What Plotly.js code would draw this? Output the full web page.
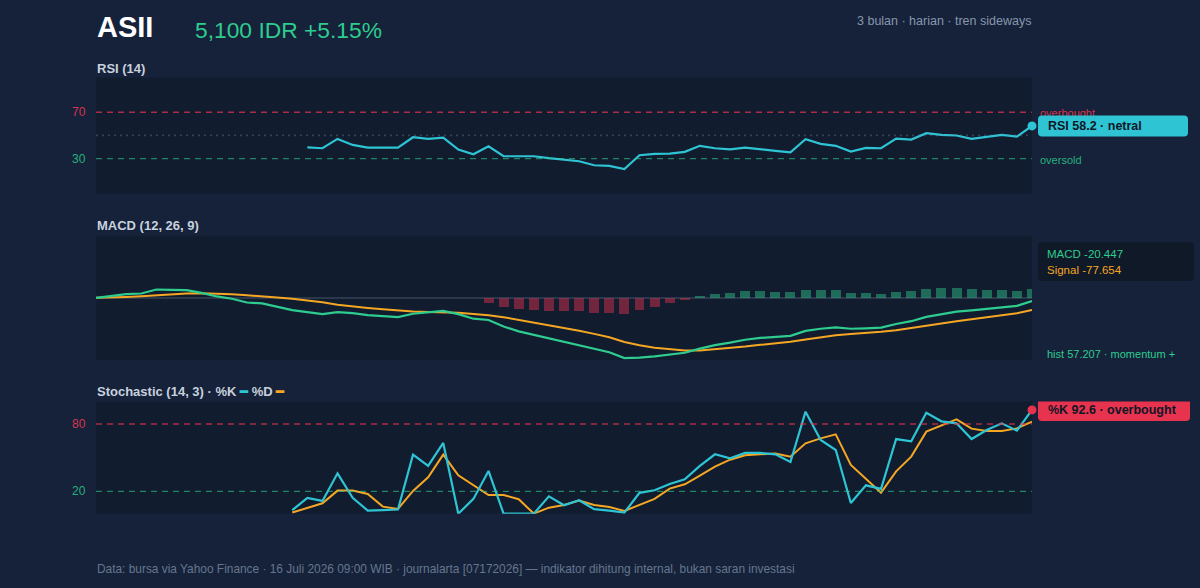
<!DOCTYPE html>
<html>
<head>
<meta charset="utf-8">
<script src="https://cdn.plot.ly/plotly-3.0.1.min.js"></script>
<style>
  html, body { margin: 0; padding: 0; background: #15223a; }
  #chart { width: 1200px; height: 588px; }
</style>
</head>
<body>
<div id="chart"></div>
<script>
// ASII daily indicators, last 3 months (63 sessions)
const ticker = "ASII";
const priceText = "5,100 IDR +5.15%";
const subtitle = "3 bulan · harian · tren sideways";
const footer = "Data: bursa via Yahoo Finance · 16 Juli 2026 09:00 WIB · journalarta [07172026] — indikator dihitung internal, bukan saran investasi";

// RSI (14) — first 14 sessions have no value
const rsi = [null, null, null, null, null, null, null, null, null, null, null, null, null, null,
  39.7, 38.9, 47.0, 41.8, 39.5, 39.5, 39.5, 48.4, 47.0, 48.1,
  37.8, 33.7, 40.6, 32.0, 32.0, 32.0, 30.3, 28.9, 27.7, 24.2,
  23.7, 20.9, 32.9, 34.0, 34.3, 35.8, 41.0, 38.9, 38.0, 39.5,
  37.8, 36.6, 35.4, 46.7, 42.7, 41.0, 36.0, 39.2, 38.9, 47.3,
  46.4, 51.9, 50.5, 49.9, 47.0, 48.7, 50.5, 49.0, 58.2];

// MACD (12, 26, 9)
const macd = [0, 11, 24, 28, 54, 52, 50, 32, 9, -6,
  -30, -36, -58, -79, -92, -105, -92, -99, -112, -118,
  -124, -103, -92, -84, -105, -135, -143, -185, -217, -239,
  -262, -286, -305, -328, -352, -390, -387, -379, -368, -355,
  -328, -306, -290, -271, -259, -251, -246, -214, -200, -191,
  -200, -197, -193, -169, -151, -123, -104, -89, -81, -70,
  -60, -52, -20.447];
const signal = [0, 2, 6, 11, 17, 24, 28, 30, 28, 24,
  17, 11, 2, -6, -17, -28, -45, -56, -65, -73,
  -82, -88, -92, -95, -97, -105, -112, -125, -142, -159,
  -176, -196, -213, -233, -255, -286, -307, -322, -333, -340,
  -340, -333, -326, -315, -304, -294, -284, -269, -255, -242,
  -233, -227, -219, -209, -196, -181, -166, -151, -138, -125,
  -111, -99, -77.654];
const hist = [null, null, null, null, null, null, null, null, null, null,
  null, null, null, null, null, null, null, null, null, null,
  null, null, null, null, null, null, -32, -60, -75, -77,
  -84, -86, -86, -95, -97, -104, -80, -56, -34, -15,
  11, 26, 34, 43, 43, 41, 37, 54, 54, 49,
  32, 30, 26, 39, 45, 58, 62, 62, 56, 54,
  49, 47, 57.207];

// Stochastic (14, 3)
const stochK = [null, null, null, null, null, null, null, null, null, null, null, null, null,
  3.1, 14.1, 11.4, 36.0, 14.1, 2.8, 3.1, 3.7, 52.7, 42.6,
  63.1, 0, 13.2, 38.1, 0, 0, 0, 15.5, 7.5, 12.0,
  4.0, 2.8, 1.0, 18.6, 20.9, 26.5, 30.7, 42.6, 53.0, 49.4,
  54.2, 54.2, 53.0, 46.1, 91.0, 65.8, 56.8, 9.6, 25.3, 22.1,
  66.6, 64.6, 90.1, 82.4, 80.6, 66.6, 74.7, 80.6, 74.1, 92.6];
const stochD = [null, null, null, null, null, null, null, null, null, null, null, null, null,
  1.0, 5.4, 9.3, 20.6, 20.6, 17.6, 6.3, 4.3, 20.3, 32.5,
  52.7, 34.3, 25.1, 16.7, 16.7, 12.9, 0.1, 5.4, 7.8, 11.7,
  7.8, 6.0, 2.5, 7.5, 13.2, 22.4, 26.2, 34.0, 42.0, 48.2,
  52.1, 53.0, 53.6, 50.9, 62.8, 67.2, 70.8, 43.5, 30.7, 18.8,
  37.8, 50.9, 73.2, 78.5, 84.2, 75.9, 73.8, 73.8, 76.1, 82.1];

const rsiLevels = { overbought: 70, mid: 50, oversold: 30 };
const stochLevels = { overbought: 80, oversold: 20 };

// ---- styling ----
const C = {
  paper: "#15223a",
  plot: "#111c2f",
  cyan: "#2ec4d4",
  green: "#2ecc8f",
  orange: "#f5a623",
  red: "#e8334f",
  redDim: "rgba(232,51,79,0.72)",
  greenDim: "rgba(46,204,143,0.6)",
  title: "#c8d1de",
  muted: "#8896ad",
  footer: "#66768f",
  dark: "#0e1726"
};
const FONT = "Liberation Sans, Arial, Helvetica, sans-serif";
const W = 1200, H = 588;
const px = x => x / W;
const py = y => 1 - y / H;
const X0 = 96, X1 = 1032;

const idx = macd.map((_, i) => i);
const last = idx.length - 1;

const traces = [
  { x: idx, y: rsi, xaxis: "x", yaxis: "y", mode: "lines", line: { color: C.cyan, width: 2.2 }, hoverinfo: "skip" },
  { x: [last], y: [rsi[last]], xaxis: "x", yaxis: "y", mode: "markers", marker: { color: C.cyan, size: 9 }, cliponaxis: false, hoverinfo: "skip" },

  { x: idx, y: hist, xaxis: "x2", yaxis: "y2", type: "bar", width: 0.66,
    marker: { color: hist.map(v => v >= 0 ? "rgba(46,204,143,0.45)" : "rgba(232,51,79,0.45)"), line: { width: 0 } },
    hoverinfo: "skip" },
  { x: idx, y: signal, xaxis: "x2", yaxis: "y2", mode: "lines", line: { color: C.orange, width: 2 }, hoverinfo: "skip" },
  { x: idx, y: macd, xaxis: "x2", yaxis: "y2", mode: "lines", line: { color: C.green, width: 2.2 }, hoverinfo: "skip" },

  { x: idx, y: stochD, xaxis: "x3", yaxis: "y3", mode: "lines", line: { color: C.orange, width: 2 }, hoverinfo: "skip" },
  { x: idx, y: stochK, xaxis: "x3", yaxis: "y3", mode: "lines", line: { color: C.cyan, width: 2.2 }, hoverinfo: "skip" },
  { x: [last], y: [stochK[last]], xaxis: "x3", yaxis: "y3", mode: "markers", marker: { color: C.red, size: 9 }, cliponaxis: false, hoverinfo: "skip" }
];

const hiddenX = (anchor) => ({
  domain: [px(X0), px(X1)], range: [0, last], anchor: anchor,
  showgrid: false, zeroline: false, showticklabels: false, ticks: "", showline: false, fixedrange: true
});
const hiddenY = (domain, range, anchor, extra) => Object.assign({
  domain: domain, range: range, anchor: anchor,
  showgrid: false, zeroline: false, showticklabels: false, ticks: "", showline: false, fixedrange: true
}, extra || {});

function hline(yref, y, color, dash, width) {
  return { type: "line", xref: "paper", yref: yref, x0: px(X0), x1: px(X1), y0: y, y1: y,
    line: { color: color, width: width || 1.3, dash: dash }, layer: "above" };
}
function roundRect(w, h, r) {
  const t = h / 2;
  return `M ${r},${-t} L ${w - r},${-t} Q ${w},${-t} ${w},${-t + r} L ${w},${t - r} Q ${w},${t} ${w - r},${t} ` +
         `L ${r},${t} Q 0,${t} 0,${t - r} L 0,${-t + r} Q 0,${-t} ${r},${-t} Z`;
}
function badge(yref, yAnchor, w, h, fill) {
  return { type: "path", xref: "paper", yref: yref, xsizemode: "pixel", ysizemode: "pixel",
    xanchor: px(1038), yanchor: yAnchor, path: roundRect(w, h, 4),
    fillcolor: fill, line: { width: 0 }, layer: "above" };
}
// level caption beside the RSI panel, drawn as a shape label so a later badge can sit over it
function sideLabel(yref, y, text, color) {
  return { type: "rect", xref: "paper", yref: yref,
    x0: px(1037), x1: px(1127), y0: y - 5, y1: y + 5,
    line: { width: 0 }, fillcolor: "rgba(0,0,0,0)", layer: "above",
    label: { text: text, textposition: "middle left", padding: 0,
      font: { family: FONT, size: 11, color: color } } };
}

const shapes = [
  hline("y", rsiLevels.overbought, C.redDim, "6px,5px"),
  hline("y", rsiLevels.mid, "rgba(120,135,160,0.35)", "2px,4px", 1.6),
  hline("y", rsiLevels.oversold, C.greenDim, "6px,5px"),
  hline("y3", stochLevels.overbought, C.redDim, "6px,5px"),
  hline("y3", stochLevels.oversold, C.greenDim, "6px,5px"),
  sideLabel("y", rsiLevels.overbought, "overbought", "#d8344f"),
  sideLabel("y", rsiLevels.oversold, "oversold", "#28b07e"),
  badge("y", rsi[last], 150, 21, C.cyan),
  { type: "path", xref: "paper", yref: "paper", xsizemode: "pixel", ysizemode: "pixel",
    xanchor: px(1038), yanchor: py(261.5), path: roundRect(156, 39, 4),
    fillcolor: "#0f1928", line: { width: 0 }, layer: "above" },
  badge("y3", stochK[last], 152, 22, C.red)
];

function txt(x, y, text, size, color, opts) {
  return Object.assign({ xref: "paper", yref: "paper", x: px(x), y: py(y), text: text, showarrow: false,
    xanchor: "left", yanchor: "middle", font: { family: FONT, size: size, color: color } }, opts || {});
}
function tick(yref, v, color) {
  return { xref: "paper", yref: yref, x: px(87.5), y: v, text: String(v), showarrow: false,
    xanchor: "right", yanchor: "middle", font: { family: FONT, size: 12, color: color } };
}

const fmt3 = v => (v < 0 ? "-" : "") + Math.abs(v).toFixed(3);

const annotations = [
  txt(95, 27, "<b>" + ticker + "</b>", 29, "#ffffff"),
  txt(193, 30, priceText, 22.8, C.green),
  txt(1033, 21, subtitle, 12.5, C.muted, { xanchor: "right" }),
  txt(95, 68, "<b>RSI (14)</b>", 13, C.title),
  txt(95, 225.5, "<b>MACD (12, 26, 9)</b>", 13, C.title),
  txt(95, 391, "<b>Stochastic (14, 3) · %K <span style='color:" + C.cyan + "'>━</span> %D <span style='color:" + C.orange + "'>━</span></b>", 13, C.title),
  txt(95, 569, footer, 11.9, C.footer),

  tick("y", rsiLevels.overbought, "#d8344f"),
  tick("y", rsiLevels.oversold, "#28b07e"),
  tick("y3", stochLevels.overbought, "#d8344f"),
  tick("y3", stochLevels.oversold, "#28b07e"),

  { xref: "paper", yref: "y", x: px(1046), y: rsi[last], showarrow: false, xanchor: "left", yanchor: "middle",
    text: "<b>RSI " + rsi[last].toFixed(1) + " · netral</b>", font: { family: FONT, size: 12.5, color: C.dark } },
  txt(1045, 254, "MACD " + fmt3(macd[last]), 11.5, C.green),
  txt(1045, 270, "Signal " + fmt3(signal[last]), 11.5, C.orange),
  txt(1045, 353.5, "hist " + fmt3(hist[last]) + " · momentum +", 11, C.green),
  { xref: "paper", yref: "y3", x: px(1046), y: stochK[last], showarrow: false, xanchor: "left", yanchor: "middle",
    text: "<b>%K " + stochK[last].toFixed(1) + " · overbought</b>", font: { family: FONT, size: 12.5, color: C.dark } }
];

const layout = {
  width: W, height: H,
  margin: { l: 0, r: 0, t: 0, b: 0, pad: 0 },
  paper_bgcolor: C.paper,
  plot_bgcolor: C.plot,
  showlegend: false,
  bargap: 0,
  font: { family: FONT, color: C.title },
  xaxis: hiddenX("y"),
  xaxis2: hiddenX("y2"),
  xaxis3: hiddenX("y3"),
  yaxis: hiddenY([py(193.3), py(77.5)], [0, 100], "x"),
  yaxis2: hiddenY([py(359.7), py(236)], [-400, 400], "x2",
    { zeroline: true, zerolinecolor: "#2b384c", zerolinewidth: 1.5 }),
  yaxis3: hiddenY([py(513.7), py(401.6)], [0, 100], "x3"),
  shapes: shapes,
  annotations: annotations
};

Plotly.newPlot("chart", traces, layout, { displayModeBar: false, staticPlot: true });
</script>
</body>
</html>
